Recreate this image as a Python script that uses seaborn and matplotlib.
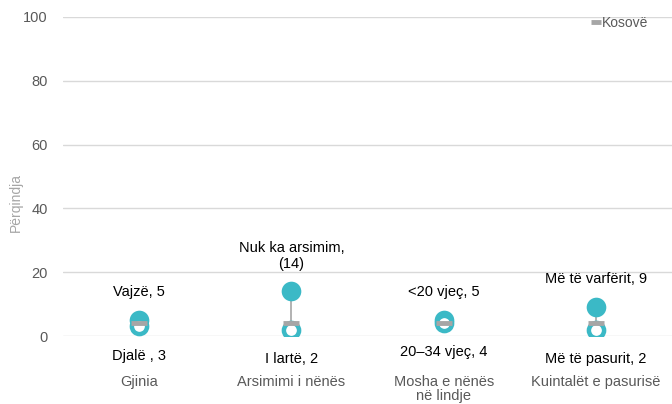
import matplotlib
matplotlib.use("Agg")
import matplotlib.pyplot as plt
import seaborn as sns
import pandas as pd

categories = ["Gjinia", "Arsimimi i nënës", "Mosha e nënës\nnë lindje", "Kuintalët e pasurisë"]
high_labels = ["Vajzë, 5", "Nuk ka arsimim,\n(14)", "<20 vjeç, 5", "Më të varfërit, 9"]
low_labels = ["Djalë , 3", "I lartë, 2", "20–34 vjeç, 4", "Më të pasurit, 2"]
high_values = [5, 14, 5, 9]
low_values = [3, 2, 4, 2]
kosovo_values = [4, 4, 4, 4]
y_ticks = [0, 20, 40, 60, 80, 100]

teal = "#3BB9C6"
gray = "#A6A6A6"
text_dark = "#000000"
tick_col = "#595959"

sns.set_theme(style="white")
plt.rcParams["font.family"] = ["Liberation Sans", "DejaVu Sans"]

df = pd.DataFrame({"x": list(range(len(categories))),
                   "high": high_values, "low": low_values, "kosovo": kosovo_values})

fig = plt.figure(figsize=(6.72, 4.04), dpi=100)
ax = fig.add_axes([63 / 672, (404 - 336) / 404, 609 / 672, (336 - 17) / 404])

ax.vlines(df["x"], df["low"], df["high"], color=gray, lw=1.2, zorder=1)
sns.scatterplot(data=df, x="x", y="high", ax=ax, s=200, color=teal, edgecolor=teal,
                linewidth=0, zorder=2, legend=False)
sns.scatterplot(data=df, x="x", y="low", ax=ax, s=120, color="white", edgecolor=teal,
                linewidth=3.2, zorder=3, legend=False)
ax.plot(df["x"], df["kosovo"], linestyle="none", marker="_", markersize=12,
        markeredgewidth=3.5, color=gray, zorder=4, label="Kosovë")

for i in range(len(categories)):
    ax.annotate(high_labels[i], (i, high_values[i]), xytext=(0, 15), textcoords="offset points",
                ha="center", va="bottom", fontsize=10.5, color=text_dark, linespacing=1.1)
    ax.annotate(low_labels[i], (i, low_values[i]), xytext=(0, -16), textcoords="offset points",
                ha="center", va="top", fontsize=10.5, color=text_dark)

ax.set_xlim(-0.5, len(categories) - 0.5)
ax.set_ylim(0, 100)
ax.set_yticks(y_ticks)
ax.set_yticklabels([str(v) for v in y_ticks], color=tick_col, fontsize=10.5)
ax.set_xticks(df["x"])
ax.set_xticklabels(categories, color=tick_col, fontsize=10.5, linespacing=1.05)
ax.tick_params(axis="y", length=0, pad=11)
ax.tick_params(axis="x", length=0, pad=28)
ax.grid(axis="y", color="#D9D9D9", lw=1)
ax.set_axisbelow(True)
for s in ax.spines.values():
    s.set_visible(False)
ax.set_xlabel("")
ax.set_ylabel("Përqindja", color="#A6A6A6", fontsize=10)
ax.yaxis.set_label_coords(-40 / 609, 0.42)

leg = ax.legend(loc="upper right", bbox_to_anchor=(0.97, 1.02), frameon=False,
                fontsize=10, handlelength=0.6, handletextpad=0.1, borderaxespad=0,
                markerscale=0.6)
for t in leg.get_texts():
    t.set_color(tick_col)

fig.savefig("out.png", dpi=100)
